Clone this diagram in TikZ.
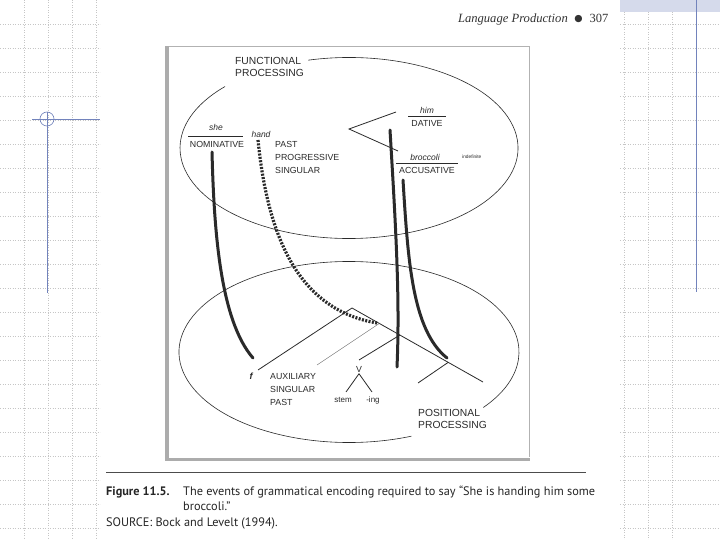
\documentclass[tikz,border=0pt]{standalone}
\usepackage{fontspec}
\setmainfont{Liberation Serif}
\setsansfont{Liberation Sans}
\newfontfamily\capfont{PT Sans}
\newfontfamily\symfont{DejaVu Sans}
\definecolor{slate}{HTML}{7283BC}
\definecolor{ink}{HTML}{2A2A2A}
\begin{document}
\begin{tikzpicture}[x=1pt,y=-1pt,
  gridline/.style={draw=gray!45, dotted, line width=0.5pt},
  lab/.style={font=\sffamily\fontsize{8.8}{10}\selectfont, inner sep=0pt, text=ink},
  biglab/.style={font=\sffamily\fontsize{10.3}{12.5}\selectfont, inner sep=0pt, text=ink, align=left},
  itlab/.style={font=\sffamily\itshape\fontsize{8.5}{10}\selectfont, inner sep=0pt, text=ink},
  tinylab/.style={font=\sffamily\fontsize{4.8}{6}\selectfont, inner sep=0pt, text=ink},
  oval/.style={draw=ink, line width=0.6pt},
  branch/.style={draw=ink, line width=0.8pt},
  heavy/.style={draw=ink, line width=3pt, line cap=round},
  heavydots/.style={draw=ink, line width=3.2pt, dash pattern=on 2pt off 1.4pt},
  caption/.style={font=\capfont\fontsize{12.3}{14}\selectfont, inner sep=0pt, anchor=base west, text=black!85}
]
\useasboundingbox (0,0) rectangle (720,540);
\fill[white] (0,0) rectangle (720,540);

% background grid
\foreach \x in {24,48,72,96} \draw[gridline] (\x,0) -- (\x,540);
\foreach \y in {24,48,...,528} \draw[gridline] (0,\y) -- (100,\y);
\foreach \x in {624,648,672} \draw[gridline] (\x,12) -- (\x,540);
\foreach \y in {24,48,...,528} \draw[gridline] (620,\y) -- (720,\y);

% blue decorations
\fill[slate!30] (620,0) rectangle (720,12);
\draw[slate, line width=0.8pt] (696,0) -- (696,292);
\draw[slate, line width=0.8pt] (32,119) -- (100,119);
\draw[slate, line width=0.8pt] (47,112) -- (47,293);
\draw[slate, line width=0.6pt] (47,119) circle[radius=7];

% header
\node[font=\itshape\fontsize{12.6}{14}\selectfont, anchor=base east, inner sep=0pt, text=black!80] (hdr) at (568,23) {Language Production};
\node[font=\symfont\fontsize{9.5}{10}\selectfont, inner sep=0pt, text=black!80] (dot) at (578.5,19) {●};
\node[font=\fontsize{12.5}{14}\selectfont, anchor=base west, inner sep=0pt, text=black!80] (pg) at (589.5,23) {307};

% figure frame
\draw[gray!60, line width=0.6pt] (168,46.5) -- (529,46.5) -- (529,457);
\fill[gray!65] (165,46) rectangle (168.5,461);
\fill[gray!65] (165,457.5) rectangle (529.5,461);

% ovals
\draw[oval] (349,148) ++(256:169 and 90.5) arc[start angle=256, end angle=582.8, x radius=169, y radius=90.5];
\draw[oval] (349,352) ++(68.5:170 and 90.5) arc[start angle=68.5, end angle=397.8, x radius=170, y radius=90.5];

\node[biglab, anchor=north west] (func) at (235,57) {FUNCTIONAL\\PROCESSING};
\node[biglab, anchor=north west] (posi) at (418,409) {POSITIONAL\\PROCESSING};

% functional labels
\node[itlab] (she) at (216,127) {she};
\draw[branch] (188,136) -- (243,136);
\node[lab] (nom) at (217,144) {NOMINATIVE};
\node[itlab] (hand) at (261,134) {hand};
\node[lab, anchor=west] (past1) at (275,144) {PAST};
\node[lab, anchor=west] (prog) at (275,157) {PROGRESSIVE};
\node[lab, anchor=west] (sing1) at (275,170) {SINGULAR};
\node[itlab] (him) at (427,110) {him};
\draw[branch] (408,116.5) -- (446,116.5);
\node[lab] (dat) at (427,123) {DATIVE};
\node[itlab] (broc) at (425,157) {broccoli};
\draw[branch] (396,163) -- (458,163);
\node[lab] (acc) at (427,170) {ACCUSATIVE};
\node[tinylab, anchor=west] (indef) at (462,157) {indefinite};

\coordinate (vtop) at (396,112);
\coordinate (vapex) at (349,129);
\coordinate (vbot) at (398,151);
\draw[branch] (vtop) -- (vapex) -- (vbot);

% positional tree
\coordinate (apex) at (352,308);
\coordinate (fend) at (258,370);
\coordinate (rend) at (483,382);
\coordinate (b1) at (400,335);
\coordinate (b2) at (448,362.5);
\coordinate (vend) at (359,360);
\coordinate (emp) at (418,383);
\draw[branch] (fend) -- (apex) -- (rend);
\draw[branch] (b1) -- (vend);
\draw[branch] (b2) -- (emp);

\node[font=\sffamily\itshape\bfseries\fontsize{9}{10}\selectfont, inner sep=0pt, text=ink] (f) at (251,376) {f};
\node[font=\sffamily\fontsize{8.8}{10}\selectfont, inner sep=0pt, text=ink] (V) at (359,369) {V};
\node[lab, font=\sffamily\fontsize{8}{10}\selectfont] (stem) at (343,400) {stem};
\node[lab, font=\sffamily\fontsize{8}{10}\selectfont] (ing) at (373,400) {-ing};
\draw[branch] (V.south) ++(0,1.5) coordinate (vs) -- (346,392);
\draw[branch] (vs) -- (372,392);
\node[lab, anchor=west] (aux) at (270,377) {AUXILIARY};
\node[lab, anchor=west] (sing2) at (270,389.5) {SINGULAR};
\node[lab, anchor=west] (past2) at (270,402) {PAST};

% thin link
\coordinate (tl1) at (317,365);
\coordinate (tl2) at (380,323);
\draw[gray!70!black, line width=0.4pt] (tl1) -- (tl2);

% heavy connections
\coordinate (n1) at (212,152);
\coordinate (n2) at (253,358);
\draw[heavy] (n1) .. controls (214,230) and (220,320) .. (n2);
\coordinate (h1) at (258,140);
\coordinate (h2) at (377,323);
\draw[heavydots] (h1) .. controls (268,240) and (300,310) .. (h2);
\coordinate (d1) at (390,130);
\coordinate (d2) at (397,367);
\draw[heavy] (d1) .. controls (396,230) and (400,300) .. (d2);
\coordinate (a1) at (403,180);
\coordinate (a2) at (447,358);
\draw[heavy] (a1) .. controls (408,260) and (412,330) .. (a2);

% caption
\draw[black!70, line width=0.8pt] (106,472) -- (586,472);
\node[caption, font=\capfont\bfseries\fontsize{12.3}{14}\selectfont] (fig) at (106,495) {Figure 11.5.};
\node[caption] (cap1) at (183,495) {The events of grammatical encoding required to say “She is handing him some};
\node[caption] (cap2) at (183,510) {broccoli.”};
\node[caption] (src) at (106,526) {SOURCE: Bock and Levelt (1994).};
\end{tikzpicture}
\end{document}
